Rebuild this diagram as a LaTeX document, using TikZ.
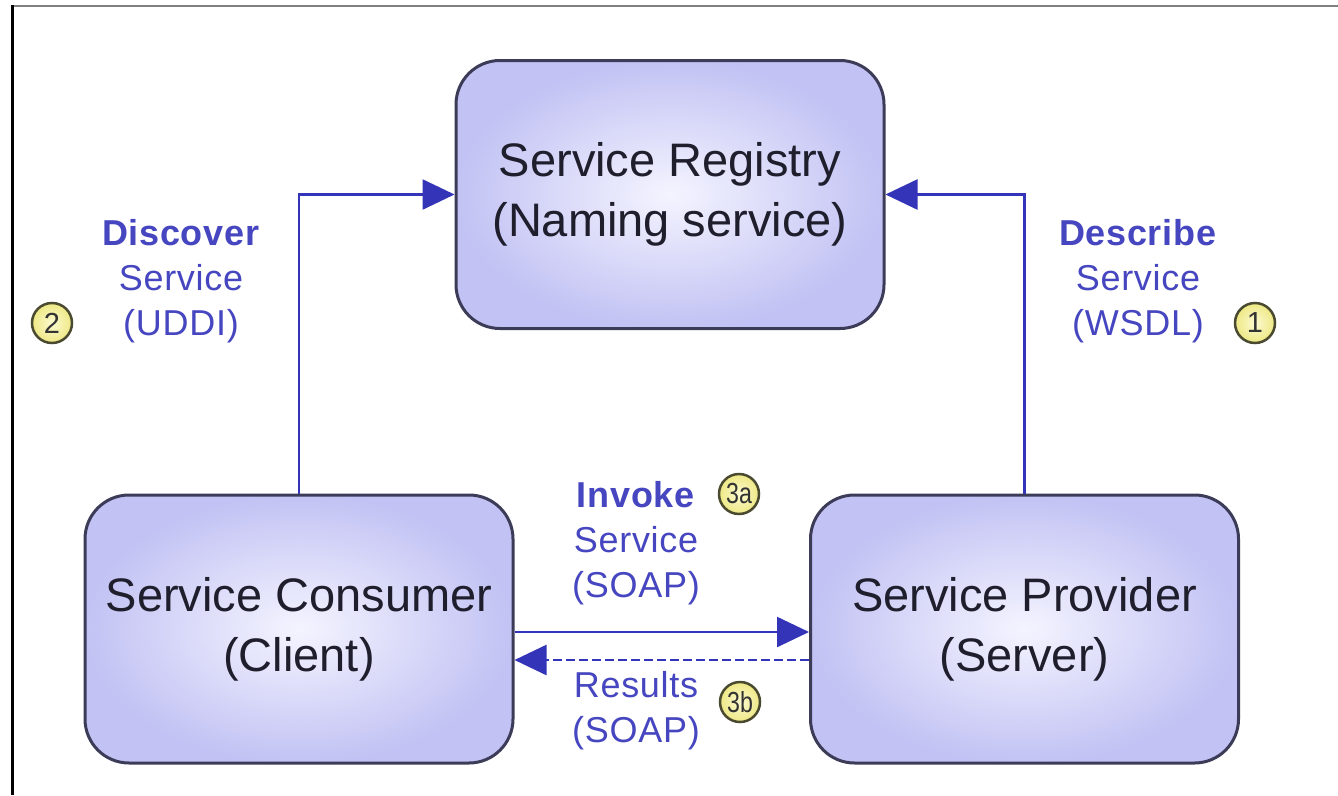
\documentclass[tikz,border=0pt]{standalone}
\usepackage{fontspec}
\setmainfont{Liberation Sans}
\newfontfamily\lblfont[LetterSpace=2]{Liberation Sans}
\usetikzlibrary{arrows.meta,shadings}
\definecolor{boxedge}{HTML}{3C3C58}
\definecolor{boxin}{HTML}{F4F4FF}
\definecolor{boxout}{HTML}{C2C2F4}
\definecolor{boxtext}{HTML}{1E1E2C}
\definecolor{arrowc}{HTML}{3434B8}
\definecolor{labelc}{HTML}{4646C0}
\definecolor{circin}{HTML}{FCFAD0}
\definecolor{circout}{HTML}{EEE884}
\definecolor{circedge}{HTML}{4A4A30}
\begin{document}
\begin{tikzpicture}[x=1pt,y=-1pt,
  svcbox/.style={draw=boxedge,line width=3pt,rounded corners=44pt,inner color=boxin,outer color=boxout,
    minimum width=428pt,minimum height=268pt,align=center,
    font=\fontsize{47}{60}\selectfont,text=boxtext},
  lbl/.style={align=center,text=labelc,font=\lblfont\fontsize{36}{45}\selectfont},
  num/.style={circle,draw=circedge,line width=2.5pt,inner color=circin,outer color=circout,
    minimum size=40pt,inner sep=0pt,font=\fontsize{29}{29}\selectfont,text=black!80},
  conn/.style={draw=arrowc,line width=2.5pt,-{Triangle[length=32pt,width=30pt]}},
]
\useasboundingbox (0,0) rectangle (1338,795);
\fill[white] (0,0) rectangle (1338,795);
% frame
\draw[gray,line width=2.5pt] (12,6) -- (1338,6);
\draw[black,line width=3pt] (12,4.5) -- (12,795);

% boxes
\node[svcbox] (reg) at (670,194.5) {Service Registry\\(Naming service)};
\node[svcbox] (con) at (299,629) {Service Consumer\\(Client)};
\node[svcbox] (pro) at (1024.5,629) {Service Provider\\(Server)};

% connectors
\draw[conn] (con.north) |- (reg.west);
\draw[conn] (pro.north) |- (reg.east);
\draw[conn] ([yshift=-3pt]con.east) -- ([yshift=-3pt]pro.west);
\draw[conn,dash pattern=on 9pt off 4pt] ([yshift=-31pt]pro.west) -- ([yshift=-31pt]con.east);

% labels
\node[lbl] (ldisc) at (181,281) {\textbf{Discover}\\Service\\(UDDI)};
\node[lbl] (ldesc) at (1138,281) {\textbf{Describe}\\Service\\(WSDL)};
\node[lbl] (linv) at (636,543) {\textbf{Invoke}\\Service\\(SOAP)};
\node[lbl] (lres) at (636,711) {Results\\(SOAP)};

% step numbers
\node[num] (n2) at (52,323) {2};
\node[num] (n1) at (1255,323) {1};
\node[num] (n3a) at (739,494) {\scalebox{0.8}[1]{3a}};
\node[num] (n3b) at (740,702) {\scalebox{0.8}[1]{3b}};
\end{tikzpicture}
\end{document}
